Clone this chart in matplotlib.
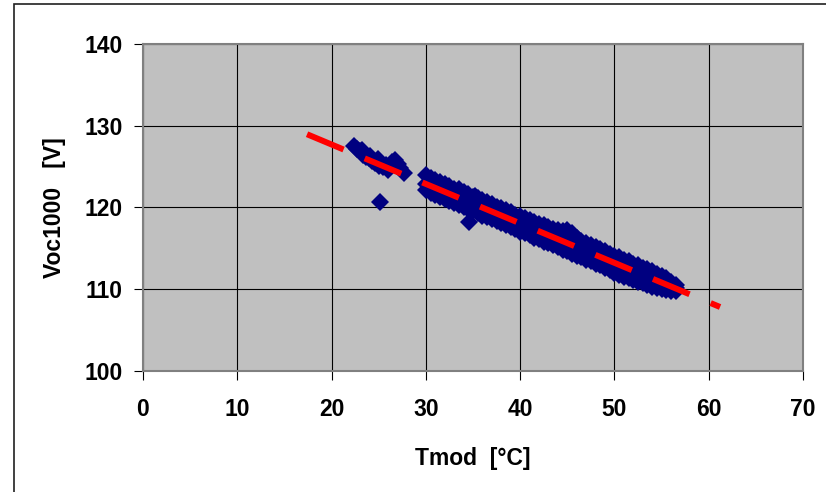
import matplotlib
matplotlib.use("Agg")
import matplotlib.pyplot as plt
from matplotlib.patches import Rectangle

# measured points: early group, then the dense band (upper / middle / lower edge)
T_EARLY = [22.4, 22.7, 23.0, 23.3, 23.6, 24.0, 24.3, 24.6, 24.9, 25.2, 25.5,
           25.8, 26.1, 26.4, 26.7, 27.0, 27.3, 27.7, 23.2, 24.1, 25.0, 26.0]
V_EARLY = [127.5, 127.1, 126.9, 126.4, 126.2, 126.0, 125.7, 125.4, 125.9, 125.3,
           124.9, 125.2, 125.0, 125.6, 125.8, 125.3, 124.8, 124.2, 127.0, 126.3,
           125.1, 124.6]
T_OUT = [25.1, 34.6, 35.2]
V_OUT = [120.7, 118.2, 121.4]

T_BAND = [30.0, 30.5, 31.0, 31.5, 32.0, 32.5, 33.0, 33.5, 34.0, 34.5, 35.0, 35.5,
          36.0, 36.5, 37.0, 37.5, 38.0, 38.5, 39.0, 39.5, 40.0, 40.5, 41.0, 41.5,
          42.0, 42.5, 43.0, 43.5, 44.0, 44.5, 45.0, 45.5, 46.0, 46.5, 47.0, 47.5,
          48.0, 48.5, 49.0, 49.5, 50.0, 50.5, 51.0, 51.5, 52.0, 52.5, 53.0, 53.5,
          54.0, 54.5, 55.0, 55.5, 56.0, 56.5]
V_UPPER = [123.9, 123.6, 123.3, 123.1, 122.9, 122.6, 122.3, 122.2, 121.9, 121.6,
           121.3, 121.1, 120.9, 120.6, 120.4, 120.1, 119.9, 119.7, 119.4, 119.1,
           119.0, 118.7, 118.4, 118.2, 118.0, 117.8, 117.6, 117.4, 117.2, 117.1,
           117.2, 116.9, 116.3, 115.9, 115.6, 115.4, 115.1, 114.9, 114.6, 114.3,
           114.1, 113.9, 113.6, 113.4, 113.1, 112.9, 112.6, 112.4, 112.2, 111.9,
           111.6, 111.3, 110.9, 110.5]
V_MID = [122.9, 122.7, 122.4, 122.1, 121.9, 121.7, 121.4, 121.2, 120.9, 120.7,
         120.4, 120.2, 120.0, 119.7, 119.5, 119.2, 119.0, 118.8, 118.5, 118.3,
         118.0, 117.8, 117.5, 117.3, 117.1, 116.8, 116.6, 116.3, 116.1, 115.9,
         115.6, 115.4, 115.1, 114.9, 114.6, 114.4, 114.2, 113.9, 113.7, 113.4,
         113.2, 113.0, 112.7, 112.5, 112.2, 112.0, 111.8, 111.5, 111.3, 111.0,
         110.8, 110.6, 110.3, 110.1]
V_LOWER = [122.1, 121.8, 121.5, 121.3, 121.0, 120.8, 120.5, 120.3, 120.0, 119.8,
           119.5, 119.3, 119.0, 118.8, 118.6, 118.3, 118.1, 117.8, 117.6, 117.3,
           117.0, 116.8, 116.6, 116.3, 116.1, 115.8, 115.6, 115.4, 115.1, 114.8,
           114.6, 114.3, 114.1, 113.9, 113.6, 113.4, 113.1, 112.9, 112.6, 112.3,
           112.0, 111.7, 111.5, 111.3, 111.1, 110.9, 110.7, 110.5, 110.3, 110.1,
           110.0, 109.9, 109.8, 109.8]

# linear trend line end points
TREND_T = [17.4, 61.2]
TREND_V = [128.95, 107.8]

plt.rcParams.update({
    "font.family": "Liberation Sans",
    "font.weight": "bold",
    "font.size": 16.5,
    "lines.scale_dashes": False,
})

fig = plt.figure(figsize=(8.26, 4.92), dpi=100)
ax = fig.add_axes([0.1731, 0.2465, 0.7991, 0.6641])
ax.set_facecolor("#c0c0c0")

navy = "#000080"
mk = dict(marker="D", ms=9, color=navy, ls="none", mew=0, zorder=3)
ax.plot(T_EARLY, V_EARLY, **mk)
ax.plot(T_OUT, V_OUT, **mk)
ax.plot(T_BAND, V_UPPER, **mk)
ax.plot(T_BAND, V_MID, **mk)
ax.plot(T_BAND, V_LOWER, **mk)

ax.plot(TREND_T, TREND_V, color="#ff0000", lw=4.3, dashes=(28.5, 16.5),
        solid_capstyle="butt", dash_capstyle="butt", zorder=4)

ax.set_xlim(0, 70)
ax.set_ylim(100, 140)
ax.set_xticks(range(0, 71, 10))
ax.set_yticks(range(100, 141, 10))
ax.set_axisbelow(True)
ax.grid(True, color="black", lw=0.8)
for s in ax.spines.values():
    s.set_color("#808080")
    s.set_linewidth(1.5)
ax.tick_params(direction="out", length=6.5, width=0.8, color="black",
               labelsize=16.5)
ax.tick_params(axis="x", pad=13)
ax.tick_params(axis="y", pad=8)
ax.set_xlabel("Tmod  [°C]", fontsize=16.5, fontweight="bold", labelpad=19)
ax.set_ylabel("Voc1000   [V]", fontsize=16.5, fontweight="bold", labelpad=13)

fig.patches.append(Rectangle((14 / 826, -0.05), 1.1, 1 - 4 / 492 + 0.05,
                             transform=fig.transFigure, fill=False,
                             edgecolor="#202020", lw=1.2))

fig.savefig("out.png", dpi=100)
